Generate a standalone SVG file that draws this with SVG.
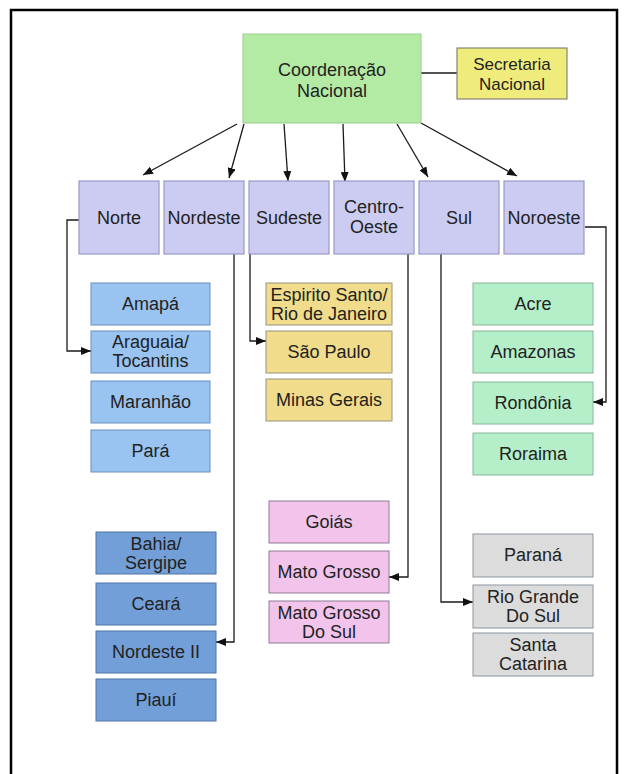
<svg xmlns="http://www.w3.org/2000/svg" width="627" height="774" viewBox="0 0 627 774">
<style>
text{font-family:"Liberation Sans",Arial,sans-serif;font-size:18px;fill:#222;text-anchor:middle}
.c{fill:none;stroke:#1a1a1a;stroke-width:1.3}
.top{fill:#b4eba4;stroke:#9cc98e;stroke-width:1}
.sec{fill:#f0ec7c;stroke:#858575;stroke-width:1.2}
.reg{fill:#ccccf2;stroke:#9898c6;stroke-width:1.2}
.no{fill:#99c4f2;stroke:#6d8fbf;stroke-width:1}
.ne{fill:#729fd8;stroke:#4f74a8;stroke-width:1}
.se{fill:#f0dc8a;stroke:#9a9280;stroke-width:1}
.co{fill:#f2c4ec;stroke:#8f7a9a;stroke-width:1}
.su{fill:#dcdcdc;stroke:#8c95a3;stroke-width:1}
.nw{fill:#b5efc9;stroke:#85b59a;stroke-width:1}
</style>
<defs>
<marker id="ah" markerUnits="userSpaceOnUse" markerWidth="11" markerHeight="8" refX="10" refY="4" orient="auto">
<path d="M0,0 L10,4 L0,8 z" fill="#111"/>
</marker>
</defs>
<rect x="0" y="0" width="627" height="774" fill="#fff"/>
<path d="M11,790 V10 H617 V790" fill="none" stroke="#000" stroke-width="2.5"/>

<g id="connectors">
<path class="c" d="M421,73 H457"/>
<path class="c" d="M237,124 L143,175" marker-end="url(#ah)"/>
<path class="c" d="M244,124 L229,178" marker-end="url(#ah)"/>
<path class="c" d="M284,124 L288,181" marker-end="url(#ah)"/>
<path class="c" d="M343,124 L345,182" marker-end="url(#ah)"/>
<path class="c" d="M397,124 L428,177" marker-end="url(#ah)"/>
<path class="c" d="M421,123 L517,176" marker-end="url(#ah)"/>
<path class="c" d="M79,220 H67 V351 H91" marker-end="url(#ah)"/>
<path class="c" d="M234,254 V642 H216" marker-end="url(#ah)"/>
<path class="c" d="M250,254 V341 H266" marker-end="url(#ah)"/>
<path class="c" d="M408,254 V577 H389" marker-end="url(#ah)"/>
<path class="c" d="M441,254 V602 H473" marker-end="url(#ah)"/>
<path class="c" d="M585,227 H606 V402 H593" marker-end="url(#ah)"/>
</g>

<g id="coordenacao"><rect class="top" x="243" y="34" width="178" height="89"/><text x="332" y="76">Coordenação</text><text x="332" y="97">Nacional</text></g>
<g id="secretaria"><rect class="sec" x="457" y="48" width="110" height="51"/><text x="512" y="70" style="font-size:17px">Secretaria</text><text x="512" y="90" style="font-size:17px">Nacional</text></g>

<g id="norte"><rect class="reg" x="79" y="181" width="80" height="73"/><text x="119" y="224">Norte</text></g>
<g id="nordeste"><rect class="reg" x="164" y="181" width="80" height="73"/><text x="204" y="224">Nordeste</text></g>
<g id="sudeste"><rect class="reg" x="249" y="181" width="80" height="73"/><text x="289" y="224">Sudeste</text></g>
<g id="centro-oeste"><rect class="reg" x="334" y="181" width="80" height="73"/><text x="374" y="213">Centro-</text><text x="374" y="233">Oeste</text></g>
<g id="sul"><rect class="reg" x="419" y="181" width="80" height="73"/><text x="459" y="224">Sul</text></g>
<g id="noroeste"><rect class="reg" x="504" y="181" width="80" height="73"/><text x="544" y="224">Noroeste</text></g>

<g id="amapa"><rect class="no" x="91" y="283" width="119" height="42"/><text x="150.5" y="310">Amapá</text></g>
<g id="araguaia"><rect class="no" x="91" y="331" width="119" height="42"/><text x="150.5" y="348">Araguaia/</text><text x="150.5" y="367">Tocantins</text></g>
<g id="maranhao"><rect class="no" x="91" y="381" width="119" height="42"/><text x="150.5" y="408">Maranhão</text></g>
<g id="para"><rect class="no" x="91" y="430" width="119" height="42"/><text x="150.5" y="457">Pará</text></g>

<g id="es-rj"><rect class="se" x="266" y="283" width="126" height="42"/><text x="329" y="301">Espirito Santo/</text><text x="329" y="320">Rio de Janeiro</text></g>
<g id="sao-paulo"><rect class="se" x="266" y="331" width="126" height="42"/><text x="329" y="358">São Paulo</text></g>
<g id="minas"><rect class="se" x="266" y="379" width="126" height="42"/><text x="329" y="406">Minas Gerais</text></g>

<g id="acre"><rect class="nw" x="473" y="283" width="120" height="42"/><text x="533" y="310">Acre</text></g>
<g id="amazonas"><rect class="nw" x="473" y="331" width="120" height="42"/><text x="533" y="358">Amazonas</text></g>
<g id="rondonia"><rect class="nw" x="473" y="382" width="120" height="42"/><text x="533" y="409">Rondônia</text></g>
<g id="roraima"><rect class="nw" x="473" y="433" width="120" height="42"/><text x="533" y="460">Roraima</text></g>

<g id="bahia"><rect class="ne" x="96" y="532" width="120" height="42"/><text x="156" y="550">Bahia/</text><text x="156" y="569">Sergipe</text></g>
<g id="ceara"><rect class="ne" x="96" y="583" width="120" height="42"/><text x="156" y="610">Ceará</text></g>
<g id="nordeste2"><rect class="ne" x="96" y="631" width="120" height="42"/><text x="156" y="658">Nordeste II</text></g>
<g id="piaui"><rect class="ne" x="96" y="679" width="120" height="42"/><text x="156" y="706">Piauí</text></g>

<g id="goias"><rect class="co" x="269" y="501" width="120" height="42"/><text x="329" y="528">Goiás</text></g>
<g id="mato-grosso"><rect class="co" x="269" y="551" width="120" height="42"/><text x="329" y="578">Mato Grosso</text></g>
<g id="ms"><rect class="co" x="269" y="601" width="120" height="42"/><text x="329" y="619">Mato Grosso</text><text x="329" y="638">Do Sul</text></g>

<g id="parana"><rect class="su" x="473" y="534" width="120" height="43"/><text x="533" y="561">Paraná</text></g>
<g id="rs"><rect class="su" x="473" y="585" width="120" height="43"/><text x="533" y="603">Rio Grande</text><text x="533" y="622">Do Sul</text></g>
<g id="sc"><rect class="su" x="473" y="633" width="120" height="43"/><text x="533" y="651">Santa</text><text x="533" y="670">Catarina</text></g>
</svg>
